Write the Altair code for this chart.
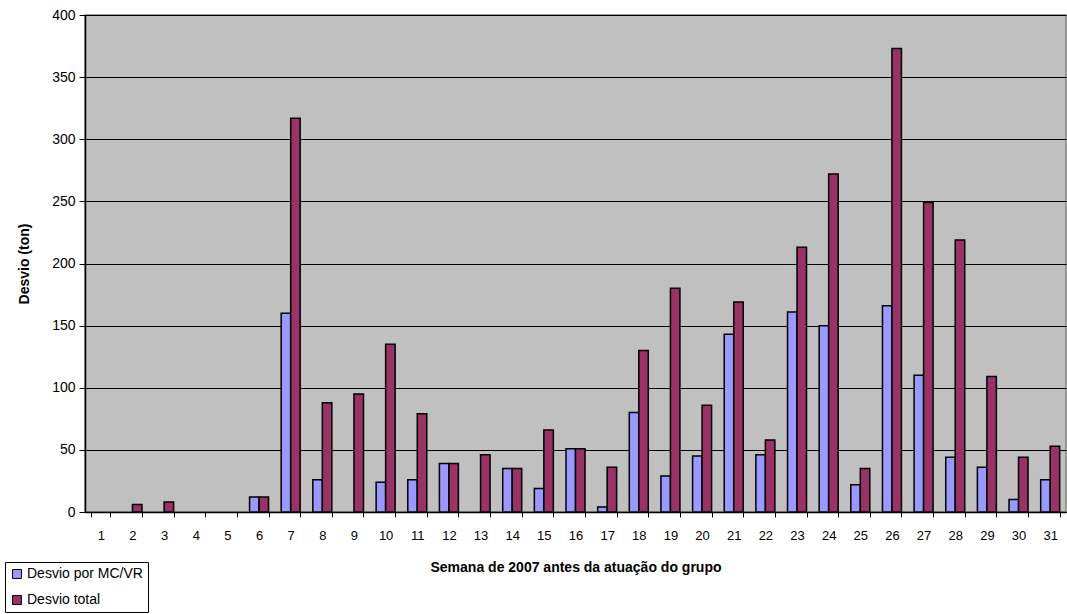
import altair as alt
import pandas as pd

# Weekly deviation (tons) for 2007, before the group's intervention
weeks = [str(i) for i in range(1, 32)]
desvio_mcvr = [0, 0, 0, 0, 0, 12, 160, 26, 0, 24, 26, 39, 0, 35, 19, 51,
               4, 80, 29, 45, 143, 46, 161, 150, 22, 166, 110, 44, 36, 10, 26]
desvio_total = [0, 6, 8, 0, 0, 12, 317, 88, 95, 135, 79, 39, 46, 35, 66, 51,
                36, 130, 180, 86, 169, 58, 213, 272, 35, 373, 249, 219, 109, 44, 53]

series_names = ["Desvio por MC/VR", "Desvio total"]
series_colors = ["#9999FF", "#993366"]

rows = []
for w, a, b in zip(weeks, desvio_mcvr, desvio_total):
    rows.append({"semana": w, "serie": series_names[0], "valor": a})
    rows.append({"semana": w, "serie": series_names[1], "valor": b})
df = pd.DataFrame(rows)

font = "Liberation Sans"

bars = alt.Chart(df).transform_filter(
    alt.datum.valor > 0  # empty weeks draw no bar at all
).mark_bar(stroke="black", strokeWidth=1.5).encode(
    x=alt.X(
        "semana:N",
        sort=weeks,
        scale=alt.Scale(domain=weeks, paddingInner=0.4, paddingOuter=0.2),
        axis=alt.Axis(
            title="Semana de 2007 antes da atuação do grupo",
            titleFont=font, titleFontSize=14, titleFontWeight="bold",
            titleColor="black", titlePadding=18,
            labelFont=font, labelFontSize=13, labelColor="black",
            labelAngle=0, labelPadding=12,
            tickBand="extent", tickColor="black", tickSize=5,
            domainColor="black", domainWidth=1.5, grid=False,
        ),
    ),
    xOffset=alt.XOffset("serie:N", sort=series_names,
                        scale=alt.Scale(domain=series_names,
                                        paddingInner=0, paddingOuter=0)),
    y=alt.Y(
        "valor:Q",
        scale=alt.Scale(domain=[0, 400], nice=False),
        axis=alt.Axis(
            title="Desvio (ton)",
            titleFont=font, titleFontSize=14, titleFontWeight="bold",
            titleColor="black", titlePadding=20,
            labelFont=font, labelFontSize=14, labelColor="black",
            labelPadding=4, values=list(range(0, 401, 50)),
            tickColor="black", tickSize=6,
            domainColor="black", domainWidth=1.5,
            grid=True, gridColor="black", gridWidth=1.2,
        ),
    ),
    color=alt.Color(
        "serie:N",
        sort=series_names,
        scale=alt.Scale(domain=series_names, range=series_colors),
        legend=alt.Legend(
            title=None, orient="none", legendX=-80, legendY=547,
            direction="vertical",
            labelFont=font, labelFontSize=14, labelColor="black",
            symbolType="square", symbolSize=80,
            symbolStrokeColor="black", symbolStrokeWidth=1,
            strokeColor="black", fillColor="white",
            padding=5, rowPadding=12, labelOffset=3,
        ),
    ),
)

chart = bars.properties(
    width=981,
    height=497,
    padding={"left": 85, "top": 15, "right": 1, "bottom": 102},
    autosize=alt.AutoSizeParams(type="none"),
    background="white",
).configure_view(
    fill="#C0C0C0", stroke="#808080", strokeWidth=1.5,
)

chart.save("out.html", embed_options={"renderer": "svg", "actions": False})
